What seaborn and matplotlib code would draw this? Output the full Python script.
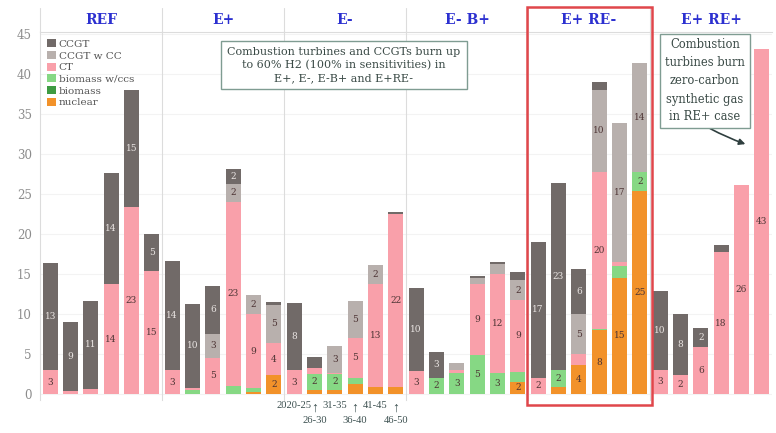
import matplotlib
matplotlib.use("Agg")
import matplotlib.pyplot as plt
from matplotlib.patches import Patch, Rectangle
from matplotlib.transforms import blended_transform_factory
import pandas as pd
import seaborn as sns

# Scenarios (panels) and build periods (bars within each panel)
scenarios = ["REF", "E+", "E-", "E- B+", "E+ RE-", "E+ RE+"]
periods = ["2020-25", "26-30", "31-35", "36-40", "41-45", "46-50"]

# Capacity additions by technology, one row per scenario, one value per period
ccgt = [
    [13.4, 8.6, 11.0, 13.9, 14.7, 4.6],
    [13.7, 10.4, 5.9, 1.9, 0.0, 0.3],
    [8.4, 1.4, 0.0, 0.0, 0.0, 0.2],
    [10.4, 3.2, 0.0, 0.25, 0.3, 1.0],
    [16.9, 23.4, 5.7, 1.0, 0.0, 0.0],
    [9.8, 7.7, 2.4, 0.9, 0.0, 0.0],
]
ccgt_cc = [
    [0, 0, 0, 0, 0, 0],
    [0.0, 0.0, 3.0, 2.2, 2.4, 4.8],
    [0.0, 0.0, 3.4, 4.6, 2.4, 0.0],
    [0.0, 0.0, 0.8, 0.7, 1.2, 2.45],
    [0.0, 0.0, 5.0, 10.3, 17.3, 13.6],
    [0, 0, 0, 0, 0, 0],
]
ct = [
    [3.0, 0.4, 0.7, 13.8, 23.4, 15.4],
    [3.0, 0.35, 4.6, 23.1, 9.15, 4.0],
    [3.0, 0.7, 0.15, 5.0, 12.9, 21.7],
    [2.9, 0.0, 0.4, 8.9, 12.4, 9.0],
    [2.1, 0.0, 1.3, 19.6, 0.6, 0.0],
    [3.1, 2.4, 5.9, 17.8, 26.2, 43.2],
]
biomass_ccs = [
    [0, 0, 0, 0, 0, 0],
    [0.0, 0.5, 0.0, 1.0, 0.6, 0.0],
    [0.0, 2.0, 1.9, 0.8, 0.0, 0.0],
    [0.0, 2.1, 2.7, 4.9, 2.7, 1.2],
    [0.0, 2.1, 0.0, 0.2, 1.4, 2.4],
    [0, 0, 0, 0, 0, 0],
]
biomass = [
    [0, 0, 0, 0, 0, 0],
    [0, 0, 0, 0, 0, 0],
    [0, 0, 0, 0, 0, 0],
    [0, 0, 0, 0, 0, 0],
    [0, 0, 0, 0, 0, 0],
    [0, 0, 0, 0, 0, 0],
]
nuclear = [
    [0, 0, 0, 0, 0, 0],
    [0.0, 0.0, 0.0, 0.0, 0.25, 2.4],
    [0.0, 0.6, 0.6, 1.25, 0.9, 0.9],
    [0.0, 0.0, 0.0, 0.0, 0.0, 1.6],
    [0.0, 0.9, 3.7, 8.0, 14.6, 25.4],
    [0, 0, 0, 0, 0, 0],
]

techs = ["CCGT", "CCGT w CC", "CT", "biomass w/ccs", "biomass", "nuclear"]
series = [ccgt, ccgt_cc, ct, biomass_ccs, biomass, nuclear]
colors = {
    "CCGT": "#716a68",
    "CCGT w CC": "#b8b0ad",
    "CT": "#f9a0aa",
    "biomass w/ccs": "#86d884",
    "biomass": "#3e9b42",
    "nuclear": "#f2922a",
}

rows = []
for tech, vals in zip(techs, series):
    for s, scen in enumerate(scenarios):
        for p in range(len(periods)):
            rows.append({"scenario": scen, "pos": p, "tech": tech, "value": vals[s][p]})
df = pd.DataFrame(rows)

sns.set_theme(style="white")
serif = ["DejaVu Serif"]
narrow = ["Liberation Serif", "DejaVu Serif"]
plt.rcParams["font.family"] = serif

fig = plt.figure(figsize=(7.76, 4.33), dpi=100)
axes = fig.subplots(
    1, 6, sharey=True,
    gridspec_kw=dict(wspace=0, left=40 / 776, right=772 / 776,
                     bottom=(433 - 400) / 433, top=(433 - 32) / 433),
)

line_col = "#dcdcdc"
for i, (ax, scen) in enumerate(zip(axes, scenarios)):
    sub = df[df["scenario"] == scen]
    sns.histplot(
        data=sub, x="pos", hue="tech", weights="value", hue_order=techs,
        palette=colors, multiple="stack", discrete=True, shrink=0.73,
        linewidth=0, alpha=1, legend=False, ax=ax,
    )
    ax.set_xlim(-0.5, 5.5)
    ax.set_ylim(-0.7, 45.3)
    ax.set_xlabel("")
    ax.set_ylabel("")
    ax.set_yticks(range(0, 50, 5))
    ax.grid(axis="y", color="#f3f3f3", linewidth=0.8)
    ax.set_axisbelow(True)
    for side in ["bottom", "right"]:
        ax.spines[side].set_visible(False)
    ax.spines["left"].set_color(line_col)
    ax.spines["top"].set_color(line_col)
    ax.spines["left"].set_linewidth(0.8)
    ax.spines["top"].set_linewidth(0.8)
    # divider continues up through the header row
    ax.plot([0, 0], [1, 1.065], transform=ax.transAxes, color=line_col,
            linewidth=0.8, clip_on=False)
    ax.text(0.5, 1.033, scen, transform=ax.transAxes, ha="center", va="center",
            fontsize=10, fontweight="bold", color="#2c30d0", family=serif)
    ax.tick_params(axis="both", length=0)
    if scen == "E-":
        # period labels: odd periods sit on the first row, even ones get an arrow
        ax.set_xticks(range(6))
        first_row = [periods[p] if p % 2 == 0 else "\u2191" for p in range(6)]
        ax.set_xticklabels(first_row, color="#3b4f4f", family=narrow)
        for p, lab in enumerate(ax.get_xticklabels()):
            lab.set_fontsize(7.6 if p % 2 == 0 else 10)
        ax.tick_params(axis="x", pad=1)
        trans = blended_transform_factory(ax.transData, ax.transAxes)
        for p in range(1, 6, 2):
            ax.text(p, -0.057, periods[p], transform=trans, ha="center", va="center",
                    fontsize=7.6, color="#3b4f4f", family=narrow)
    else:
        ax.set_xticks([])

    # value labels on segments
    base = [0.0] * 6
    for tech, vals in reversed(list(zip(techs, series))):
        for p in range(6):
            v = vals[i][p]
            if v >= 1.5:
                col = "#ebe6e4" if tech == "CCGT" else "#4d3434"
                ax.text(p, base[p] + v / 2, f"{v:.0f}", ha="center", va="center",
                        fontsize=6.5, color=col, family=serif)
            base[p] += v

axes[0].tick_params(axis="y", labelsize=8.5, labelcolor="#8c8c8c", pad=6)

handles = [Patch(facecolor=colors[t], edgecolor="none", label=t) for t in techs]
axes[0].legend(handles=handles, loc="upper left", bbox_to_anchor=(0.0, 1.0),
               frameon=False, fontsize=7.5, handlelength=0.8, handleheight=0.8,
               handletextpad=0.3, labelspacing=0.2, borderaxespad=0.3,
               labelcolor="#555555")

# callouts
fig.text(344 / 776, 1 - 65 / 433,
         "Combustion turbines and CCGTs burn up\nto 60% H2 (100% in sensitivities) in\nE+, E-, E-B+ and E+RE-",
         ha="center", va="center", fontsize=8, color="#3a4a46", linespacing=1.35,
         bbox=dict(boxstyle="square,pad=0.55", facecolor="white", edgecolor="#7f9c92", linewidth=1))

fig.patches.append(Rectangle((527 / 776, (433 - 405) / 433), (652 - 527) / 776, (405 - 7) / 433,
                             transform=fig.transFigure, fill=False, edgecolor="#e0464b",
                             linewidth=1.8))

axes[5].annotate(
    "Combustion\nturbines burn\nzero-carbon\nsynthetic gas\nin RE+ case",
    xy=(748 / 776, 1 - 145 / 433), xycoords="figure fraction",
    xytext=(705 / 776, 1 - 81 / 433), textcoords="figure fraction",
    ha="center", va="center", fontsize=8.3, color="#3a4a46", linespacing=1.5,
    bbox=dict(boxstyle="square,pad=0.4", facecolor="white", edgecolor="#7f9c92", linewidth=1),
    arrowprops=dict(arrowstyle="-|>", color="#2f3f3f", linewidth=1.2,
                    mutation_scale=9, shrinkA=0, relpos=(0.45, 0.0),
                    connectionstyle="arc3,rad=0.05"),
)

fig.savefig("out.png", dpi=100)
